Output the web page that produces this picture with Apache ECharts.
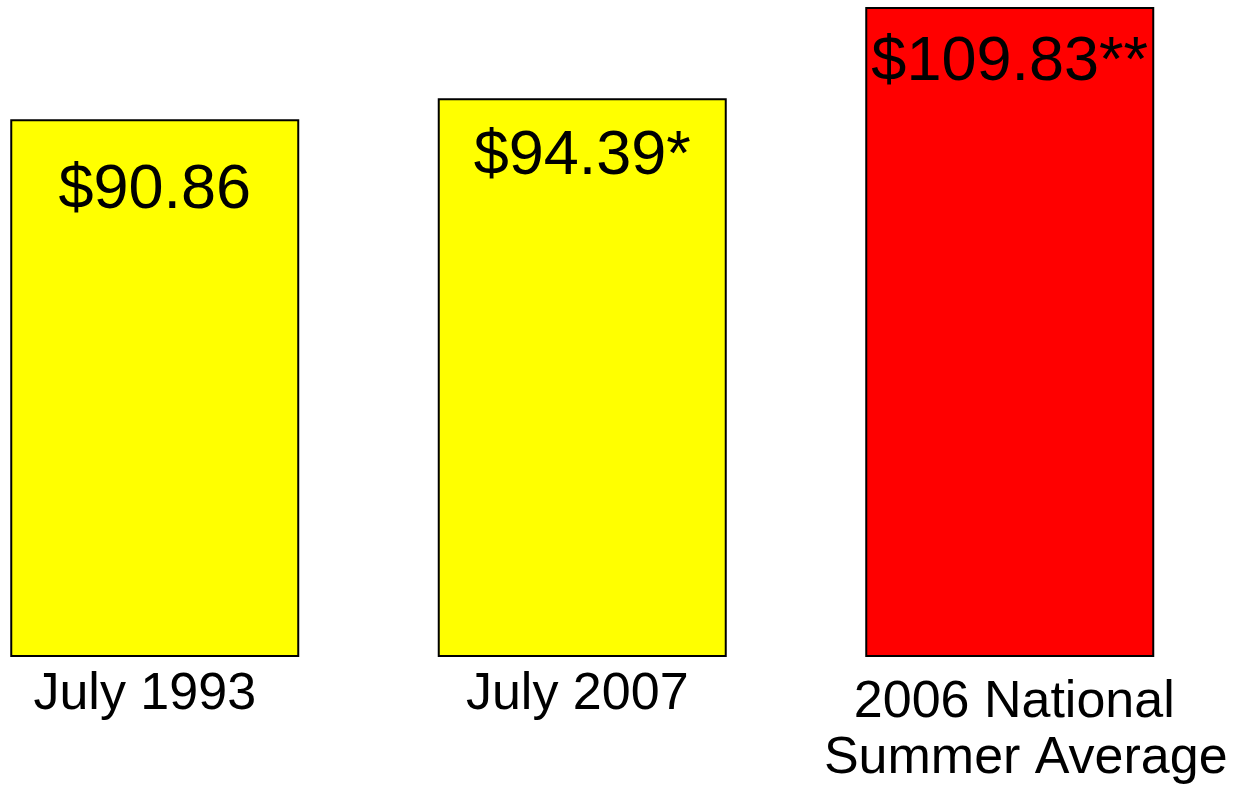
<!DOCTYPE html>
<html>
<head>
<meta charset="utf-8">
<script src="https://cdn.jsdelivr.net/npm/echarts@6/dist/echarts.min.js"></script>
<style>
  html, body { margin: 0; padding: 0; background: #fff; overflow: hidden; width: 1234px; height: 789px; position: relative; }
  /* chart canvas is shifted left so the first bar sits near the page edge */
  #chart { position: absolute; left: -59px; top: 0; width: 1293px; height: 789px; }
</style>
</head>
<body>
<div id="chart"></div>
<script>
  // data
  const categories = ['July 1993', 'July 2007', '2006 National\nSummer Average'];
  const values = [90.86, 94.39, 109.83];
  const valueLabels = ['$90.86', '$94.39*', '$109.83**'];
  const barColors = ['#ffff00', '#ffff00', '#ff0000'];
  const labelGaps = [40, 27, 24]; // label distance under bar top

  const chart = echarts.init(document.getElementById('chart'));

  const catFont = { color: '#000', fontSize: 52, fontFamily: 'Liberation Sans', lineHeight: 56 };

  const option = {
    animation: false,
    grid: {
      left: 0,
      width: 1282.5,
      top: 0,
      bottom: 132,
      containLabel: false,
    },
    xAxis: {
      type: 'category',
      data: categories,
      axisLine: { show: false },
      axisTick: { show: false },
      axisLabel: {
        color: '#000',
        fontSize: 52,
        lineHeight: 56,
        fontFamily: 'Liberation Sans',
        margin: 10,
        interval: 0,
        // each line gets its own small nudge
        formatter: (val, idx) =>
          val
            .split('\n')
            .map((line, j) => '{c' + idx + j + '|' + line + '}')
            .join('\n'),
        rich: {
          c00: Object.assign({}, catFont, { padding: [0, 20, 0, 0] }),
          c10: Object.assign({}, catFont, { padding: [0, 10, 0, 0] }),
          c20: Object.assign({}, catFont, { lineHeight: 72, padding: [0, 0, 0, 9] }),
          c21: Object.assign({}, catFont, { lineHeight: 40, padding: [0, 0, 0, 32] }),
        },
      },
    },
    yAxis: {
      type: 'value',
      min: 0,
      max: 111,
      show: false,
      splitLine: { show: false },
    },
    series: [
      {
        type: 'bar',
        barWidth: 289,
        data: values.map((v, i) => ({
          value: v,
          itemStyle: { color: barColors[i] },
          label: {
            show: true,
            position: 'insideTop',
            distance: labelGaps[i],
            formatter: valueLabels[i],
          },
        })),
        itemStyle: {
          borderColor: '#000',
          borderWidth: 2,
        },
        label: {
          color: '#000',
          fontSize: 63,
          fontFamily: 'Liberation Sans',
        },
      },
    ],
  };

  chart.setOption(option);
</script>
</body>
</html>
